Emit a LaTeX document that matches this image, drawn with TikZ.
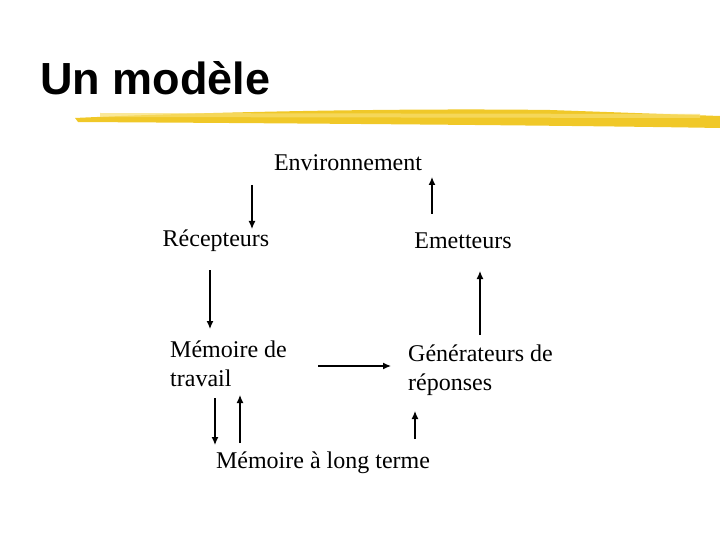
\documentclass[tikz,border=0pt]{standalone}
\usepackage{fontspec}
\setmainfont{Liberation Serif}
\newfontfamily\titlefont{Liberation Sans}
\usetikzlibrary{arrows.meta}
\definecolor{brush}{RGB}{240,200,40}
\definecolor{brushlight}{RGB}{248,222,110}
\begin{document}
\begin{tikzpicture}[x=1pt,y=-1pt,
  lbl/.style={font=\fontsize{24}{29}\selectfont, inner sep=0pt},
  arr/.style={-{Latex[length=8pt,width=7pt]}, line width=1.3pt}]
\useasboundingbox (0,0) rectangle (720,540);
\node[anchor=base west, inner sep=0pt, font=\titlefont\bfseries\fontsize{45}{50}\selectfont] (title) at (40,95) {Un modèle};
\fill[brush] (75,118) .. controls (200,112) and (400,108) .. (550,110) -- (720,116) -- (720,128) .. controls (600,126) and (400,124) .. (78,122) -- cycle;
\fill[brushlight, opacity=0.7] (100,113) -- (700,114) -- (700,118) -- (100,117) -- cycle;
\node[lbl] (env) at (348,163) {Environnement};
\node[lbl] (rec) at (216,241) {Récepteurs};
\node[lbl] (emet) at (463,241) {Emetteurs};
\node[lbl, anchor=west, align=left] (mt) at (170,364) {Mémoire de\\travail};
\node[lbl, anchor=west, align=left] (gen) at (408,370) {Générateurs de\\réponses};
\node[lbl] (mlt) at (323,463) {Mémoire à long terme};
\coordinate (a1) at (252,185); \coordinate (a2) at (252,229);
\coordinate (b1) at (432,214); \coordinate (b2) at (432,177);
\coordinate (c1) at (210,270); \coordinate (c2) at (210,329);
\coordinate (d1) at (480,335); \coordinate (d2) at (480,271);
\coordinate (e1) at (318,366); \coordinate (e2) at (391,366);
\coordinate (f1) at (215,398); \coordinate (f2) at (215,445);
\coordinate (g1) at (240,443); \coordinate (g2) at (240,395);
\coordinate (h1) at (415,439); \coordinate (h2) at (415,411);
\foreach \s/\t in {a1/a2,b1/b2,c1/c2,d1/d2,e1/e2,f1/f2,g1/g2,h1/h2}
  \draw[arr] (\s) -- (\t);
\end{tikzpicture}
\end{document}
